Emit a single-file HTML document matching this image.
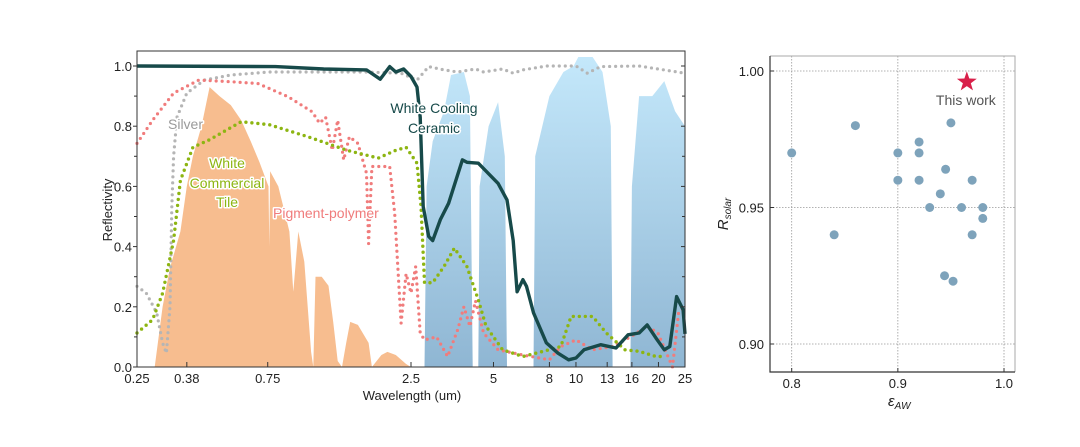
<!DOCTYPE html>
<html><head><meta charset="utf-8">
<style>
body{margin:0;background:#fff;}
svg{display:block;font-family:"Liberation Sans",Arial,sans-serif;}
.halo{paint-order:stroke;stroke:#fff;stroke-width:3px;stroke-linejoin:round;}
</style></head>
<body>
<svg id="fig" width="1080" height="447" viewBox="0 0 1080 447">
<defs>
<linearGradient id="atmGrad" x1="0" y1="0" x2="0" y2="1">
<stop offset="0" stop-color="#c4e8fb"/><stop offset="1" stop-color="#8fb6d3"/>
</linearGradient>
</defs>
<g id="left"></g>
<g id="right"></g>
<g>
<text x="412" y="400" font-size="13" text-anchor="middle" fill="#222">Wavelength (um)</text>
<text transform="translate(112,210) rotate(-90)" font-size="13" text-anchor="middle" fill="#222">Reflectivity</text>
<text class="halo" x="168" y="129" font-size="14" fill="#9a9a9a">Silver</text>
<text class="halo" x="434" y="113" font-size="14" text-anchor="middle" fill="#174a4a">White Cooling</text>
<text class="halo" x="434" y="133" font-size="14" text-anchor="middle" fill="#174a4a">Ceramic</text>
<text class="halo" x="227" y="168" font-size="14" text-anchor="middle" fill="#8db512">White</text>
<text class="halo" x="227" y="188" font-size="14" text-anchor="middle" fill="#8db512">Commercial</text>
<text class="halo" x="227" y="207" font-size="14" text-anchor="middle" fill="#8db512">Tile</text>
<text class="halo" x="273" y="218" font-size="14" fill="#f07c7c">Pigment-polymer</text>
</g>
<g>
<text transform="translate(728,214) rotate(-90)" font-size="15" text-anchor="middle" fill="#222" font-style="italic">R<tspan font-size="10" dy="3">solar</tspan></text>
<text x="888" y="406" font-size="15" fill="#222" font-style="italic">ε<tspan font-size="10" dy="3">AW</tspan></text>
</g>
</svg>
<script>
// ---------- Left chart data ----------
const xTicks = [0.25,0.38,0.75,2.5,5,8,10,13,16,20,25];
const yTicks = [0,0.2,0.4,0.6,0.8,1.0];
const solarSpectrum = [[0.29,0],[0.31,0.2],[0.33,0.33],[0.36,0.45],[0.38,0.6],[0.4,0.7],[0.43,0.8],[0.46,0.93],[0.5,0.9],[0.55,0.87],[0.6,0.82],[0.65,0.75],[0.7,0.68],[0.755,0.6],[0.76,0.4],[0.765,0.65],[0.82,0.6],[0.9,0.45],[0.93,0.25],[0.97,0.45],[1.02,0.35],[1.08,0.05],[1.1,0],[1.12,0.3],[1.18,0.3],[1.25,0.27],[1.3,0.15],[1.35,0.02],[1.4,0],[1.45,0.08],[1.5,0.15],[1.6,0.14],[1.75,0.08],[1.8,0],[1.95,0.04],[2.05,0.05],[2.2,0.04],[2.4,0.01],[2.5,0]];
const atmWindow = [[2.8,0],[2.85,0.6],[3.0,0.75],[3.3,0.85],[3.5,0.97],[3.9,0.98],[4.1,0.9],[4.2,0],[4.4,0],[4.45,0.6],[4.8,0.8],[5.2,0.88],[5.5,0.7],[5.6,0],[7.0,0],[7.1,0.7],[8,0.9],[9,0.98],[9.8,1.0],[10.2,1.03],[11.5,1.03],[12.5,0.98],[13.4,0.8],[13.6,0],[15.8,0],[16,0.6],[17,0.9],[19,0.9],[21,0.95],[23,0.85],[25,0.8],[25,0]];
const ceramic = [[0.25,1.0],[0.8,0.998],[1.2,0.99],[1.72,0.987],[1.93,0.956],[2.09,0.998],[2.2,0.98],[2.35,0.99],[2.5,0.965],[2.63,0.93],[2.7,0.83],[2.77,0.533],[2.9,0.434],[3.0,0.42],[3.2,0.49],[3.43,0.544],[3.85,0.688],[4.0,0.68],[4.4,0.677],[5.2,0.61],[5.6,0.555],[5.9,0.42],[6.1,0.25],[6.4,0.29],[6.6,0.268],[7.0,0.18],[7.8,0.08],[8.6,0.046],[9.4,0.024],[10,0.03],[10.7,0.057],[12.3,0.074],[14.0,0.063],[15.5,0.107],[17.0,0.113],[18.2,0.14],[19.6,0.096],[21,0.057],[22,0.068],[23.3,0.234],[24.6,0.19],[25,0.11]];
const silver = [[0.25,0.268],[0.27,0.246],[0.295,0.18],[0.31,0.08],[0.32,0.046],[0.33,0.2],[0.335,0.53],[0.34,0.7],[0.35,0.83],[0.38,0.91],[0.44,0.953],[0.55,0.97],[0.76,0.98],[1.23,0.98],[1.7,0.98],[2.3,0.976],[2.63,0.953],[2.9,0.998],[3.3,0.987],[3.7,0.98],[4.3,0.99],[4.6,0.98],[5.4,0.99],[5.9,0.976],[6.4,0.987],[7.8,1.0],[10,1.0],[11,0.976],[12.3,0.998],[17,1.0],[25,0.976]];
const pigment = [[0.25,0.743],[0.285,0.82],[0.34,0.91],[0.42,0.953],[0.55,0.948],[0.69,0.942],[0.89,0.898],[1.09,0.848],[1.16,0.81],[1.22,0.83],[1.29,0.72],[1.35,0.82],[1.42,0.688],[1.49,0.765],[1.6,0.743],[1.72,0.644],[1.75,0.41],[1.8,0.666],[1.96,0.666],[2.09,0.666],[2.18,0.51],[2.3,0.146],[2.4,0.31],[2.5,0.246],[2.6,0.334],[2.7,0.113],[2.8,0.09],[3.1,0.1],[3.4,0.035],[3.7,0.124],[3.9,0.2],[4.1,0.135],[4.3,0.22],[4.6,0.113],[5.2,0.057],[6.4,0.04],[8.0,0.024],[8.8,0.068],[10,0.09],[11.5,0.057],[13.6,0.068],[15.8,0.1],[18.2,0.135],[19.9,0.113],[22.5,0.0],[23.7,0.18],[25,0.2]];
const tile = [[0.25,0.113],[0.285,0.157],[0.31,0.245],[0.34,0.42],[0.36,0.62],[0.4,0.73],[0.46,0.755],[0.6,0.815],[0.76,0.805],[1.05,0.765],[1.46,0.72],[1.9,0.694],[2.2,0.72],[2.4,0.73],[2.63,0.677],[2.72,0.533],[2.8,0.28],[3.0,0.28],[3.3,0.334],[3.6,0.395],[4.0,0.334],[4.4,0.223],[4.7,0.135],[5.4,0.057],[6.4,0.035],[7.6,0.052],[8.8,0.068],[9.6,0.168],[11.5,0.168],[12.9,0.113],[15.1,0.057],[17,0.052],[19.6,0.035],[21,0.035]];

// ---------- Right chart data ----------
const epsAW = [0.80,0.86,0.84,0.90,0.90,0.92,0.92,0.92,0.93,0.94,0.945,0.95,0.97,0.96,0.98,0.98,0.97,0.944,0.952];
const rSolar = [0.970,0.980,0.940,0.970,0.960,0.974,0.970,0.960,0.950,0.955,0.964,0.981,0.960,0.950,0.950,0.946,0.940,0.925,0.923];
const thisWork = [0.965,0.996];
const rxTicks = [0.8,0.9,1.0];
const ryTicks = [0.90,0.95,1.00];

const NS='http://www.w3.org/2000/svg';
function mk(parent,tag,attrs,text){const e=document.createElementNS(NS,tag);for(const k in attrs)e.setAttribute(k,attrs[k]);if(text!==undefined)e.textContent=text;parent.appendChild(e);return e;}

const L={x0:137,x1:685,y0:367,y1:66,top:51};
const xs=v=>L.x0+(L.x1-L.x0)*Math.log(v/0.25)/Math.log(100);
const ys=v=>L.y0+(L.y1-L.y0)*v;
const left=document.getElementById('left');
function pathOf(arr){return arr.map((p,i)=>(i?'L':'M')+xs(p[0]).toFixed(1)+','+ys(p[1]).toFixed(1)).join('');}

const sol=mk(left,'path',{d:pathOf(solarSpectrum)+'Z',fill:'#f7bd8f'});


const atm=mk(left,'path',{d:pathOf(atmWindow)+'Z',fill:'url(#atmGrad)'});



const s1=mk(left,'path',{d:pathOf(silver),fill:'none',stroke:'#b5b5b5','stroke-width':3.2,'stroke-linecap':'round','stroke-dasharray':'0 6'});


const s2=mk(left,'path',{d:pathOf(pigment),fill:'none',stroke:'#f07c7c','stroke-width':3.2,'stroke-linecap':'round','stroke-dasharray':'0 6'});


const s3=mk(left,'path',{d:pathOf(tile),fill:'none',stroke:'#8db512','stroke-width':3.4,'stroke-linecap':'round','stroke-dasharray':'0 6'});


const s4=mk(left,'path',{d:pathOf(ceramic),fill:'none',stroke:'#174a4a','stroke-width':3.4,'stroke-linejoin':'round'});



const fr=mk(left,'rect',{x:L.x0,y:L.top,width:L.x1-L.x0,height:L.y0-L.top,fill:'none',stroke:'#333','stroke-width':1});


xTicks.forEach(t=>{
  const x=xs(t);
  mk(left,'line',{x1:x,x2:x,y1:L.y0,y2:L.y0-5,stroke:'#333'});
  const tl=mk(left,'text',{x:x,y:383,'font-size':13,'text-anchor':'middle',fill:'#222'},String(t));
  
  
});
yTicks.forEach(t=>{
  const y=ys(t);
  mk(left,'line',{x1:L.x0-4,x2:L.x0,y1:y,y2:y,stroke:'#333'});
  mk(left,'line',{x1:L.x1-4,x2:L.x1,y1:y,y2:y,stroke:'#333'});
  const tl=mk(left,'text',{x:L.x0-5,y:y+5,'font-size':13,'text-anchor':'end',fill:'#222'},t.toFixed(1));
  
  
});
for(let v=0.1;v<1;v+=0.2){const y=ys(v);mk(left,'line',{x1:L.x0-3,x2:L.x0,y1:y,y2:y,stroke:'#333'});mk(left,'line',{x1:L.x1-3,x2:L.x1,y1:y,y2:y,stroke:'#333'});}

// ---- right chart ----
const R={x0:770,x1:1015,y0:372,y1:56};
const rxs=v=>791.7+(v-0.8)*(1004-791.7)/0.2;
const rys=v=>344+(v-0.9)*(71-344)/0.1;
const right=document.getElementById('right');
rxTicks.forEach(t=>{
  const x=rxs(t);
  mk(right,'line',{x1:x,x2:x,y1:R.y1,y2:R.y0,stroke:'#999','stroke-dasharray':'1.5 1.5','stroke-width':0.8});
  mk(right,'line',{x1:x,x2:x,y1:R.y0,y2:R.y0-4,stroke:'#333'});
  const tl=mk(right,'text',{x:x,y:388,'font-size':13,'text-anchor':'middle',fill:'#222'},t.toFixed(1));
  
  
});
ryTicks.forEach(t=>{
  const y=rys(t);
  mk(right,'line',{x1:R.x0,x2:R.x1,y1:y,y2:y,stroke:'#999','stroke-dasharray':'1.5 1.5','stroke-width':0.8});
  mk(right,'line',{x1:R.x0,x2:R.x0+4,y1:y,y2:y,stroke:'#333'});
  const tl=mk(right,'text',{x:R.x0-6,y:y+5,'font-size':13,'text-anchor':'end',fill:'#222'},t.toFixed(2));
  
  
});
mk(right,'path',{d:`M${R.x0},${R.y1}H${R.x1}V${R.y0}`,fill:'none',stroke:'#aaa','stroke-width':1});
const ax=mk(right,'path',{d:`M${R.x0},${R.y1}V${R.y0}H${R.x1}`,fill:'none',stroke:'#333','stroke-width':1.2});


epsAW.forEach((e,i)=>{
  const c=mk(right,'circle',{cx:rxs(e),cy:rys(rSolar[i]),r:4.5,fill:'#7ea3bb'});
  
  
});
(function(){
  const cx=rxs(thisWork[0]),cy=rys(thisWork[1]);let pts=[];
  for(let k=0;k<10;k++){const r=k%2?4.2:10.5,a=-Math.PI/2+k*Math.PI/5;pts.push((cx+r*Math.cos(a)).toFixed(1)+','+(cy+r*Math.sin(a)).toFixed(1));}
  const s=mk(right,'polygon',{points:pts.join(' '),fill:'#d9204a'});
  
  
  const t=mk(right,'text',{x:cx-1,y:cy+23,'font-size':14,'text-anchor':'middle',fill:'#555'},'This work');
  
  
})();
</script>
</body></html>
